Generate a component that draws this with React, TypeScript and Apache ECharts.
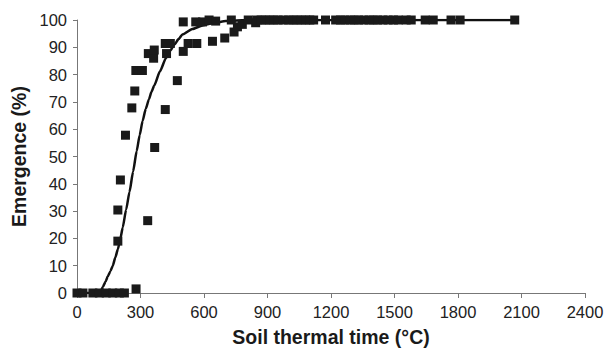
import React, { useEffect, useRef } from "react";
import * as echarts from "echarts";

const observedX = [0, 28, 75, 106, 138, 169, 200, 224, 279, 193, 193, 205, 229, 259, 273, 278, 309, 334, 337, 362, 365, 367, 417, 417, 441, 423, 474, 502, 525, 566, 502, 561, 593, 624, 655, 640, 698, 729, 742, 758, 781, 809, 844,
  850, 870, 890, 910, 930, 950, 975, 1000, 1020, 1040, 1060, 1080, 1100, 1118, 1174,
  1222, 1245, 1265, 1290, 1310, 1330, 1355, 1380, 1400, 1420, 1445, 1470, 1495, 1518, 1555, 1579, 1645, 1683, 1767, 1810, 2068];
const observedY = [0, 0, 0, 0, 0, 0, 0, 0, 1.5, 19, 30.4, 41.4, 57.8, 67.8, 74, 81.5, 81.5, 26.5, 87.7, 86, 89, 53.3, 67.2, 91.4, 91.4, 87.7, 77.8, 88.5, 91.4, 91.4, 99.3, 99.3, 99.3, 100, 99.6, 92.2, 93.4, 100, 95.6, 97.5, 98.4, 100, 99,
  100, 100, 100, 100, 100, 100, 100, 100, 100, 100, 100, 100, 100, 100, 100,
  100, 100, 100, 100, 100, 100, 100, 100, 100, 100, 100, 100, 100, 100, 100, 100, 100, 100, 100, 100, 100];

const fitX = [0, 100, 112, 122, 135, 145, 158, 169, 181, 193, 205, 216, 232, 248, 265, 282, 296, 310, 325, 340, 352, 365, 392, 420, 440, 460, 480, 498, 545, 593, 650, 703, 780, 850, 1000, 2070];
const fitY = [0, 0, 0.8, 2.2, 4.2, 6, 8, 10, 13, 16, 20, 24, 30.5, 37, 44.5, 52, 57.8, 63, 67.5, 71, 73.7, 76, 81.2, 86, 88.7, 91, 93, 94.7, 96.7, 98, 99, 99.6, 99.9, 100, 100, 100];

const xTicks = { min: 0, max: 2400, interval: 300 };
const yTicks = { min: 0, max: 100, interval: 10 };

export default function App() {
  const ref = useRef<HTMLDivElement>(null);
  useEffect(() => {
    const chart = echarts.init(ref.current!, null, { renderer: "svg" });
    const font = "'Liberation Sans', Arial, sans-serif";
    chart.setOption({
      animation: false,
      backgroundColor: "#ffffff",
      grid: { left: 77, right: 23, top: 20, bottom: 57, containLabel: false, outerBoundsMode: "none" },
      xAxis: {
        type: "value",
        min: xTicks.min,
        max: xTicks.max,
        interval: xTicks.interval,
        name: "Soil thermal time (°C)",
        nameLocation: "middle",
        nameGap: 34,
        nameTextStyle: { fontFamily: font, fontWeight: "bold", fontSize: 19.5, color: "#1a1a1a" },
        axisLine: { lineStyle: { color: "#777", width: 1 } },
        axisTick: { show: true, length: 5, lineStyle: { color: "#777" } },
        axisLabel: { fontFamily: font, fontSize: 16.5, color: "#222", margin: 10, formatter: (v: number) => String(v) },
        splitLine: { show: false },
      },
      yAxis: {
        type: "value",
        min: yTicks.min,
        max: yTicks.max,
        interval: yTicks.interval,
        name: "Emergence (%)",
        nameLocation: "middle",
        nameGap: 48,
        nameTextStyle: { fontFamily: font, fontWeight: "bold", fontSize: 19.5, color: "#1a1a1a" },
        axisLine: { show: true, lineStyle: { color: "#777", width: 1 } },
        axisTick: { show: true, length: 4, lineStyle: { color: "#777" } },
        axisLabel: { fontFamily: font, fontSize: 16.5, color: "#222", margin: 10 },
        splitLine: { show: false },
      },
      series: [
        {
          type: "line",
          data: fitX.map((x, i) => [x, fitY[i]]),
          smooth: 0.2,
          smoothMonotone: "x",
          showSymbol: false,
          lineStyle: { color: "#111", width: 2.5 },
          z: 2,
        },
        {
          type: "scatter",
          data: observedX.map((x, i) => [x, observedY[i]]),
          symbol: "rect",
          symbolSize: 9,
          itemStyle: { color: "#1a1a1a", opacity: 1 },
          z: 3,
        },
      ],
    });
    return () => chart.dispose();
  }, []);
  return <div ref={ref} style={{ width: 608, height: 350, position: "absolute", left: 0, top: 0 }} />;
}
